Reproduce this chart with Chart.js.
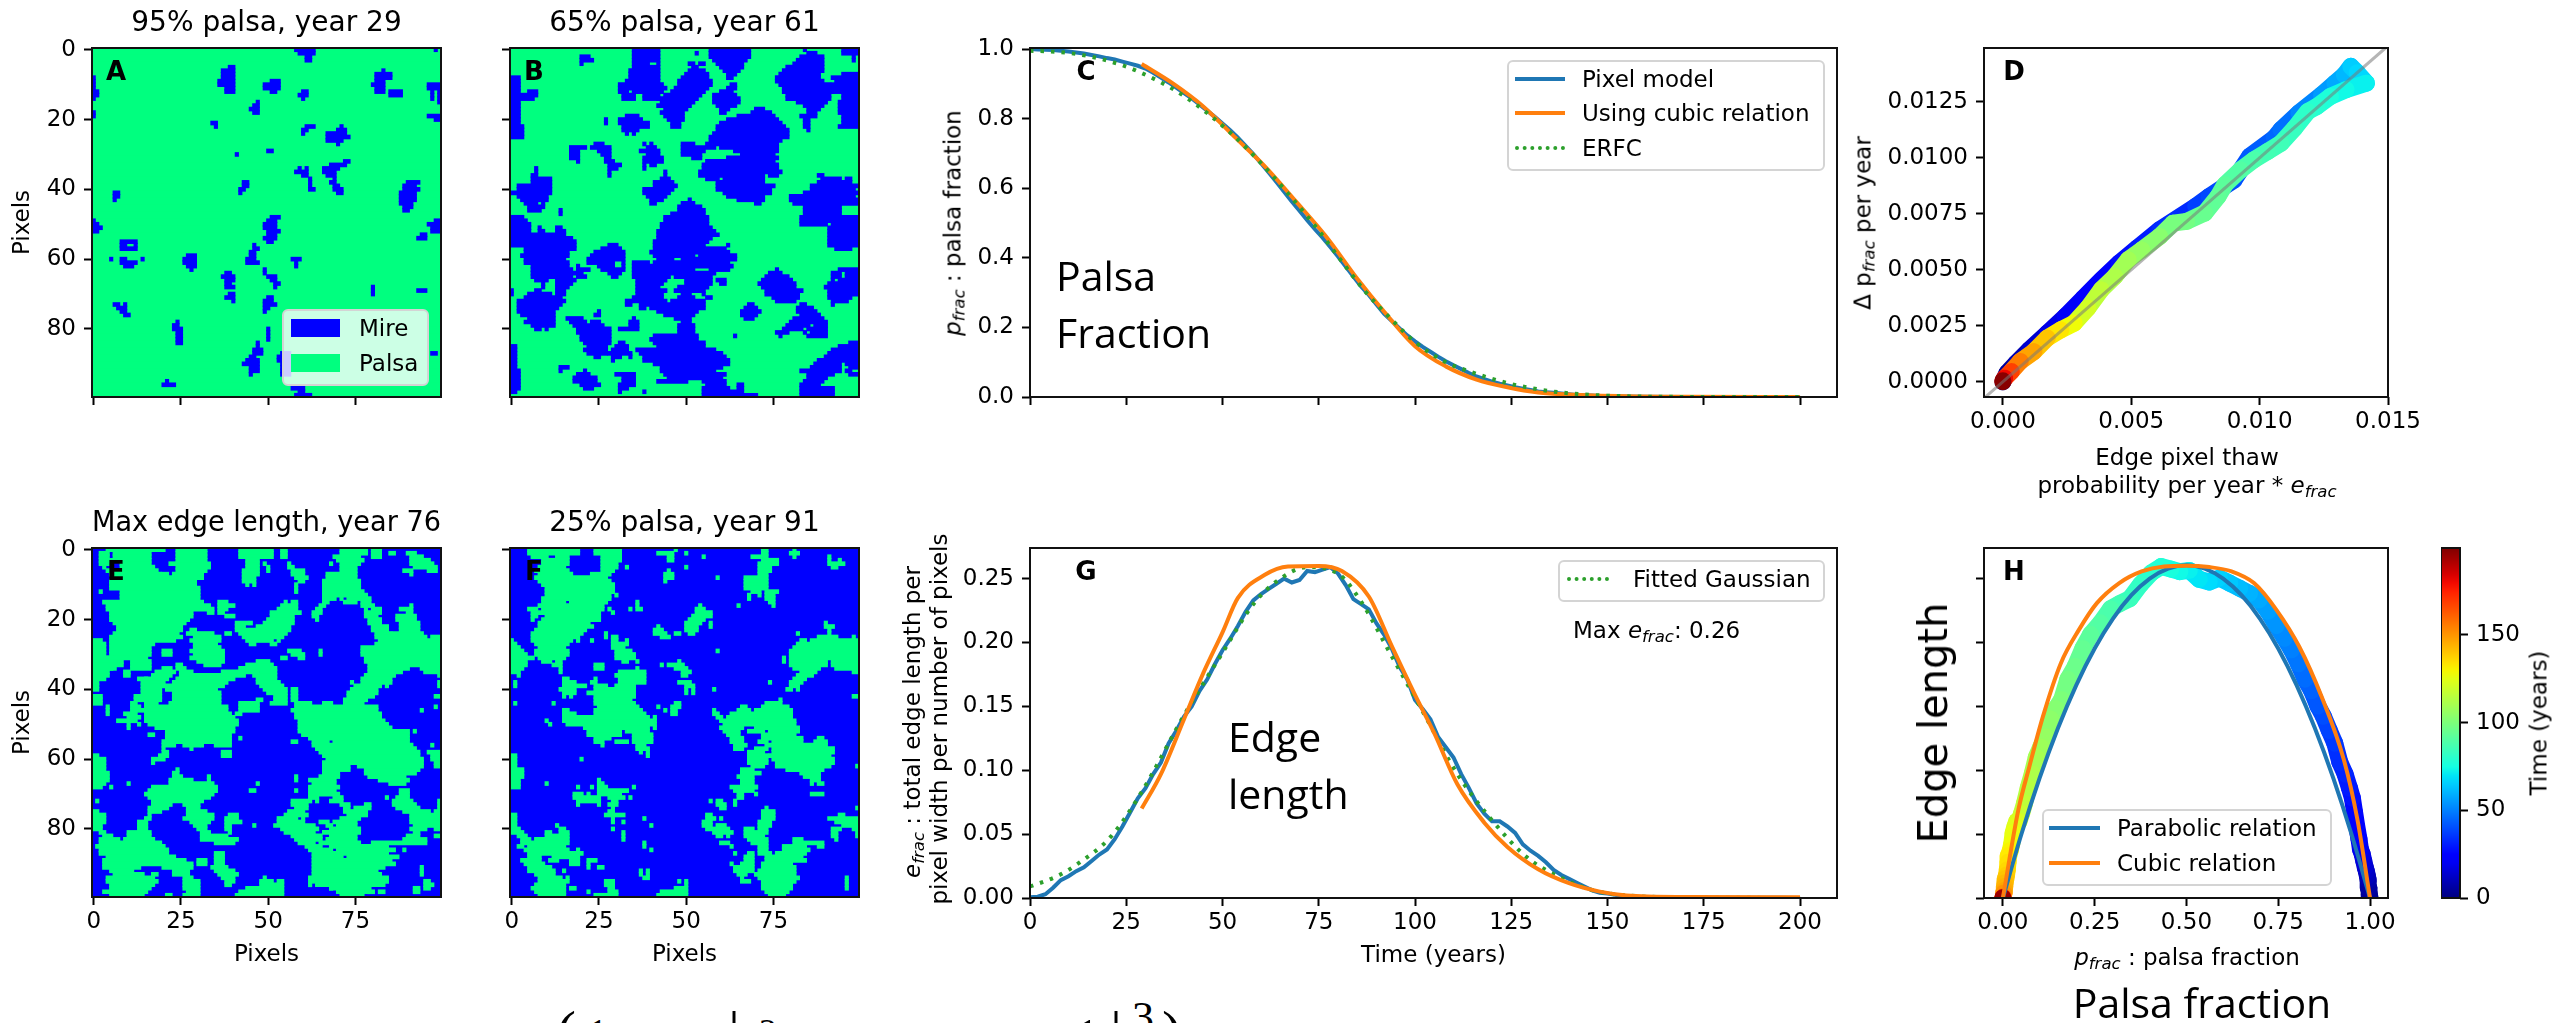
<!DOCTYPE html>
<html>
<head>
<meta charset="utf-8">
<title>Palsa model</title>
<script src="https://cdn.jsdelivr.net/npm/chart.js@4"></script>
<style>
html,body{margin:0;padding:0;background:#fff;width:2554px;height:1023px;overflow:hidden;position:relative;font-family:"DejaVu Sans",sans-serif;color:#000}
body{filter:blur(.5px)}
canvas{position:absolute}
.t{position:absolute;white-space:nowrap;line-height:1}
.t sub{font-size:72%;line-height:0;vertical-align:-0.25em}
.lg{position:absolute;box-sizing:border-box;background:rgba(255,255,255,.8);border:2px solid #d4d4d4;border-radius:6px}
.sw{position:absolute}
</style>
</head>
<body>
<script>
const years = [0,2,4,6,8,10,12,14,16,18,20,22,24,26,28,30,32,34,36,38,40,42,44,46,48,50,52,54,56,58,60,62,64,66,68,70,72,74,76,78,80,82,84,86,88,90,92,94,96,98,100,102,104,106,108,110,112,114,116,118,120,122,124,126,128,130,132,134,136,138,140,142,144,146,148,150,155,160,170,180,195,200];
const pixelFrac = [1,.999,.998,.997,.995,.993,.99,.987,.983,.979,.974,.97,.964,.958,.952,.944,.932,.918,.904,.889,.873,.858,.841,.823,.805,.786,.767,.745,.722,.698,.672,.645,.618,.59,.562,.535,.508,.482,.458,.431,.404,.375,.346,.318,.293,.266,.239,.218,.197,.177,.16,.144,.13,.116,.103,.091,.08,.069,.059,.051,.044,.038,.033,.028,.024,.02,.016,.014,.012,.01,.008,.006,.005,.004,.003,.0025,.0015,.001,.0003,.0001,.00005,0];
const edgeFrac = [.0005,.001,.003,.008,.014,.017,.021,.024,.029,.034,.038,.046,.056,.067,.078,.086,.097,.106,.121,.131,.142,.15,.162,.171,.183,.194,.203,.213,.224,.233,.238,.242,.246,.25,.247,.249,.256,.255,.257,.259,.254,.245,.234,.23,.226,.215,.206,.195,.181,.171,.155,.148,.14,.126,.118,.11,.097,.086,.074,.066,.06,.06,.056,.051,.042,.037,.033,.028,.022,.018,.015,.012,.009,.006,.004,.0035,.001,.0003,.0002,.0002,.0002,0];

const cubicYears = [29,37,45,53,61,69,77,85,92,100,108,116,124,132,140,155,170,200];
const cubicFrac = [.957,.902,.835,.749,.663,.563,.46,.34,.245,.146,.088,.05,.028,.013,.007,.002,.0005,0];
const erfcYears = [0,7,13,20,28,40,52,60,67,75,80,87,94,100,108,113,124,135,143,155,170,200];
const erfcFrac = [.995,.992,.984,.967,.936,.865,.76,.672,.585,.478,.404,.304,.222,.158,.1,.078,.04,.017,.008,.002,.0003,0];

const cubicEdgeYears = [29,34,40,45,50,54,61,67,75,81,88,94,100,105,111,118,124,132,140,148,155,171,200];
const cubicEdge = [.07,.097,.14,.176,.208,.235,.253,.2595,.26,.256,.236,.197,.159,.129,.089,.059,.04,.0225,.0116,.005,.002,.0008,.0005];
const gaussYears = [0,7,13,21,29,40,50,58,65,72,80,86,94,102,111,119,129,138,146,155,171,200];
const gaussEdge = [.009,.017,.028,.048,.083,.143,.192,.23,.25,.259,.254,.232,.189,.146,.097,.0645,.032,.0157,.0062,.002,.0005,0];

// panel D, in time order
const thawTime = [0,5,9,14,18,21,23,25,27,30,33,37,39,41,43,45,47,51,55,58,61,65,67,72,74,77,79,81,83,85,86,88,90,92,93,95,98,99,103,106,109,112,116,121,128,133,140,147,155,168,180,198,199];
const thawX = [0,.00016,.00051,.00103,.00173,.00243,.00313,.00383,.00453,.00523,.00611,.00751,.00803,.009,.00961,.01057,.01083,.01153,.01241,.01293,.0133,.01355,.0138,.01416,.01337,.01276,.01223,.01188,.01136,.01083,.01031,.00978,.00926,.00865,.00838,.00786,.00716,.00663,.00611,.00541,.00488,.00436,.00383,.00331,.00278,.00226,.00173,.00121,.00068,.00033,.00007,0,0];
const thawY = [0,.00039,.00083,.00143,.00217,.00292,.00373,.00455,.0053,.00597,.00679,.00783,.00827,.009,.01006,.01088,.01125,.012,.01281,.01333,.0137,.01408,.0138,.01333,.01304,.01274,.01229,.01207,.01132,.01065,.01028,.00991,.00946,.0088,.00827,.00753,.00716,.00708,.00649,.00589,.00545,.0047,.00411,.00329,.00262,.00232,.00195,.00135,.00091,.00046,.00016,.00004,0];
const unitLine = [-.00075,.0149];

// panel H relations
const relationP = [0,.05,.1,.15,.2,.25,.3,.35,.4,.45,.5,.55,.6,.65,.7,.75,.8,.85,.9,.95,1];
const parabolic = [0,.0494,.0936,.1326,.1664,.195,.2184,.2366,.2496,.2574,.26,.2574,.2496,.2366,.2184,.195,.1664,.1326,.0936,.0494,0];
const cubicP = [0,.042,.072,.109,.158,.207,.256,.317,.378,.439,.5,.562,.623,.684,.745,.807,.868,.929,.966,1];
const cubicE = [0,.0686,.1026,.1417,.1835,.2095,.2304,.2461,.2552,.2591,.2597,.2586,.2552,.2461,.2252,.1965,.1574,.1078,.0608,0];

// tick positions
const pixelTicks = [0,25,50,75];
const rowTicks = [0,20,40,60,80];
const timeTicks = [0,25,50,75,100,125,150,175,200];
const fracTicks = [0,.2,.4,.6,.8,1];
const edgeTicks = [0,.05,.1,.15,.2,.25];
const thawXTicks = [0,.005,.01,.015];
const thawYTicks = [0,.0025,.005,.0075,.01,.0125];
const relationTicks = [0,.25,.5,.75,1];
const colorTicks = [0,50,100,150];

// maps: [firstRow, lastRow, fromCol, toCol, fromCol, toCol, ...]
const mireA = [[0,0,58,63,98,98],[1,1,59,63],[2,3,61,62],[5,5,39,40],[6,8,37,40],[9,10,36,40],[11,12,38,40],[9,9,51,53],[10,11,49,53],[12,12,51,52],
[15,15,47,47],[16,17,46,47],[17,17,45,45],[18,18,46,47],[12,12,60,61],[13,13,59,61],[14,14,60,60],[6,6,83,83],[7,8,81,85],[9,9,81,83],[10,10,80,83],[11,12,81,83],[12,13,85,88],
[10,11,96,99],[12,14,97,97],[12,15,99,99],[8,11,0,0],[12,13,0,1],[14,14,0,0],[18,19,0,0],[19,19,96,99],[20,20,98,99],[21,21,34,35],[22,22,35,35],
[22,22,61,63,71,71],[23,23,60,61,70,72],[24,24,60,60,67,72],[25,25,67,73],[26,26,67,71],[27,27,70,70],[30,30,41,41],[29,29,50,51],
[32,32,72,73],[33,33,68,72],[34,34,66,70,59,59,61,61],[35,35,66,69,58,61],[36,36,67,69,60,61],[37,37,69,69,62,62],[38,38,68,69,62,62,43,44],[39,39,69,70,62,62,43,44],[40,40,69,71,62,63,42,43],[41,41,70,71,42,42],
[41,42,6,7],[43,43,6,6],[38,38,90,93],[39,39,89,92],[40,40,89,93],[41,43,88,92],[44,44,88,91],[45,45,89,91],[46,46,89,90],
[48,48,51,53],[49,49,50,52,0,0,98,99],[50,50,49,52,0,1,96,99],[51,51,49,52,0,2,97,99],[52,52,50,53,0,1,97,99],[53,53,50,52,94,95],[54,54,49,52,93,95],[55,55,50,51,8,12],
[56,56,8,9,12,12,46,46],[57,57,8,12,46,47],[58,59,45,46],[59,59,27,29],[60,61,26,29],[60,60,44,46,57,59,5,5,14,14,8,9],[61,61,44,47,58,58,8,12],[62,62,27,29,58,58,9,11],[63,63,28,28,49,49],
[64,64,38,39,49,49],[65,65,37,40,50,52],[66,66,38,40,51,52],[67,67,38,39,52,53],[68,68,38,40,52,52,80,80],[69,69,80,80,93,95],[70,70,80,80,39,40],[71,71,38,40,50,51],[72,72,40,40,49,51],[73,73,49,52,6,7,9,9],[74,74,49,50,7,9],[75,75,49,49,8,9],[76,76,9,10],
[78,78,24,24],[79,79,23,24],[80,80,23,25,50,50],[81,83,24,25,50,50],[84,84,24,25,47,47],[85,85,47,47],[86,87,46,48],[87,87,97,98,54,56],[88,88,45,46,53,56],[89,89,44,47,53,56],[90,90,43,47,54,56],[91,92,45,47,54,56],[93,93,45,45,54,56],
[95,95,21,21],[96,96,20,23],[97,97,57,60],[98,98,59,60],[99,99,58,62]];

const mireB = [[0,0,35,42,57,68,84,84,95,99],[1,1,35,42,53,53,57,68,85,87,95,99],[2,2,20,22,35,42,57,68,83,89,98,98],[3,3,20,23,35,42,58,67,82,89,98,98],[4,4,20,20,35,39,42,42,51,52,54,55,59,66,81,89],[5,5,35,42,52,53,60,66,79,89],[6,6,34,42,51,55,61,65,78,89],
[7,7,34,42,50,56,62,64,77,88,95,99],[8,8,0,2,34,42,49,56,62,63,76,88,92,99],[9,9,0,2,33,42,48,57,76,89,93,99],[10,10,0,2,31,43,48,57,63,64,77,91,92,99],[11,11,0,2,31,43,44,44,47,56,62,64,78,99],[12,12,0,2,5,7,31,33,35,43,46,55,60,63,78,92,93,99],
[13,13,0,7,32,35,38,42,44,54,58,64,79,91,95,99],[14,14,0,6,32,35,38,42,42,53,58,65,79,87,88,91,95,99],[15,15,0,2,43,52,58,65,82,90,94,99],[16,16,0,2,42,51,59,64,84,89,94,99],[17,17,0,2,44,50,60,62,70,72,85,88,94,99],[18,18,0,2,43,49,60,61,69,74,85,87,94,99],
[19,19,0,2,33,36,44,49,65,75,83,87,95,99],[20,20,0,2,27,27,31,37,45,49,62,76,84,85,95,99],[21,21,0,2,27,27,31,39,46,48,60,77,84,85,95,99],[22,22,0,3,32,39,46,48,59,78,84,85,94,99],[23,23,0,3,32,36,59,79,85,85],[24,24,0,3,33,33,35,35,58,79],[25,25,0,3,57,79],[26,26,57,77],
[27,27,24,26,38,38,40,40,49,52,56,57,58,76],[28,28,17,21,23,28,39,41,49,58,60,76],[29,29,17,19,25,28,37,42,49,55,64,76],[30,30,17,19,26,28,39,42,49,54,66,75],[31,31,17,19,27,28,38,43,52,54,62,76],[32,32,19,19,27,29,38,43,56,75],[33,33,28,31,38,38,40,41,55,76],[34,34,7,7,28,30,38,38,55,76],
[35,35,7,7,28,28,44,44,54,77],[36,36,6,7,28,28,44,44,54,72,74,76,88,89],[37,37,6,11,43,45,56,59,61,72,89,94,96,97],[38,38,6,11,41,46,59,72,88,97],[39,39,2,11,41,47,59,75,86,99],[40,40,2,11,38,46,59,74,86,98],[41,41,0,11,38,45,61,74,84,99],[42,42,2,10,39,44,62,72,80,98],[43,43,3,10,40,43,51,51,65,72,80,99],[44,44,4,7,9,9,40,41,49,52,70,71,81,99],
[45,45,5,9,48,54,84,94],[46,46,5,8,14,14,48,55,84,94],[47,47,14,14,46,55,84,94],[48,48,0,3,44,56,83,99],[49,49,0,4,44,56,83,99],[50,50,0,5,43,56,83,90,92,99],[51,51,0,5,8,8,13,14,43,57,91,99],[52,52,0,5,8,9,13,15,42,58,91,99],[53,53,0,15,42,59,91,99],[54,54,0,17,42,57,91,99],[55,55,0,18,41,56,91,99],
[56,56,0,18,28,30,41,55,62,62,91,99],[57,57,4,18,26,31,41,55,56,61,93,97],[58,58,4,16,24,32,40,55,55,62],[59,59,3,16,23,32,41,52,54,64],[60,60,4,15,22,32,42,46,49,64],[61,61,4,16,22,29,32,32,35,39,41,62],[62,62,6,16,19,19,25,29,32,32,35,63],[63,63,6,17,19,22,26,32,35,52,57,62,76,76,94,99],
[64,64,6,20,28,31,35,58,74,77,92,94,96,99],[65,65,6,17,19,21,29,30,35,45,47,57,73,79,92,94,96,99],[66,66,7,10,13,18,36,44,50,57,59,61,72,80,92,92,94,99],[67,67,9,9,13,17,36,43,50,57,60,61,71,81,91,99],[68,68,9,9,13,16,36,42,48,56,72,81,90,99],[69,69,0,0,7,8,13,15,36,44,47,55,73,83,91,99],[70,70,0,0,5,11,13,15,36,43,49,51,55,55,73,82,91,99],[71,71,4,14,35,43,48,52,56,57,75,82,91,97],[72,72,2,15,33,34,35,44,46,55,76,81,92,96],
[73,73,2,14,33,34,37,55,68,69,83,84,92,92],[74,74,2,13,37,38,40,55,67,70,82,86],[75,75,2,12,25,25,42,53,66,71,82,87],[76,76,3,12,24,25,44,52,66,70,83,88],[77,77,5,12,16,20,35,35,47,51,67,69,81,89],[78,78,4,12,17,21,23,25,34,36,49,51,80,90],[79,79,6,12,18,26,34,36,48,52,79,85,87,90],[80,80,7,8,10,10,19,28,31,36,48,52,78,83,85,90],[81,81,19,28,48,52,76,79,84,84,86,90],[82,82,20,28,41,53,64,64,77,77,85,90],[83,83,20,28,40,53],
[84,84,21,28,31,32,41,55,97,99],[85,85,0,1,22,27,30,33,42,55,94,99],[86,86,0,1,21,27,29,33,36,58,92,99],[87,87,0,1,22,27,28,34,37,60,91,99],[88,88,0,1,24,25,29,31,34,34,38,61,90,99],[89,89,0,1,29,29,38,62,88,99],[90,90,0,1,41,62,87,94,96,99],[91,91,0,1,14,16,43,60,86,94,97,99],[92,92,0,2,14,14,21,21,43,58,83,94,96,97],
[93,93,0,2,19,22,30,35,44,61,85,92,97,99],[94,94,0,2,18,24,32,35,45,60,85,90],[95,95,0,2,18,24,32,35,42,50,55,61,84,89],[96,96,0,2,20,25,31,35,56,61,65,66,83,88],[97,97,0,2,21,23,31,33,55,62,65,66,83,92],[98,98,0,1,31,31,38,38,55,66,83,92],[99,99,55,70,83,92]];

const palsaE = [[0,0,4,20,24,32,42,51,54,55,71,78,80,82],[1,1,2,4,6,16,24,32,42,51,54,55,71,78,80,82,85,86,90,92],[2,2,2,4,6,16,24,32,42,51,54,55,69,76,80,82,91,94],[3,3,2,4,5,16,24,32,44,47,70,77,91,96],[4,4,2,4,8,16,22,23,24,33,44,47,49,49,56,56,68,68,71,76,91,97],[5,5,3,3,8,17,24,33,44,47,50,50,56,57,71,75,92,98],
[6,6,4,18,24,32,43,47,50,50,57,60,71,75,89,91,96,98],[7,7,5,19,20,21,23,31,43,47,57,60,67,75,91,91],[8,8,6,31,43,46,58,61,67,75],[9,9,5,29,43,46,59,60,66,76],[10,10,5,29,44,44,46,46,58,58,66,76],[11,11,5,30,58,58,66,76],[12,12,2,2,8,30,58,58,66,77],[13,13,8,30,66,78],[14,14,8,30,66,69,71,71,73,79],
[15,15,3,31,36,38,55,55,57,58,66,67,72,75,77,79],[16,16,4,33,36,40,54,58,65,66,77,80,91,91],[17,17,4,32,33,34,36,38,53,58,64,65,78,78,80,82,88,91],[18,18,5,28,33,34,36,37,51,59,63,65,78,82,90,91],[19,19,5,28,38,40,51,57,63,64,78,81,87,92],[20,20,5,27,50,57,64,64,79,82,87,92],[21,21,6,26,41,44,45,45,49,57,79,82,88,93],[22,22,7,25,41,43,47,56,80,84,88,93],[23,23,7,25,28,29,41,56,80,84,88,93],[24,24,6,24,27,34,38,39,42,55,81,85,86,94],
[25,25,5,25,29,36,43,54,81,87,85,95,97,99],[26,26,0,2,5,23,28,36,44,51,53,53,82,99],[27,27,0,3,5,17,29,35,45,46,51,52,81,99],[28,28,0,3,5,16,29,36,77,99],[29,29,0,3,5,16,20,22,28,37,56,59,65,65,77,99],[30,30,0,3,5,16,20,22,29,37,57,60,65,65,77,99],[31,31,0,5,4,15,28,37,54,55,59,60,78,99],[32,32,0,5,4,8,11,16,30,37,47,50,78,99],[33,33,0,5,3,8,11,16,24,25,32,36,44,51,79,99],
[34,34,0,5,3,6,11,16,20,22,24,26,42,52,79,90,94,99],[35,35,0,4,9,10,18,23,25,28,37,47,48,52,79,88,95,99],[36,36,0,4,9,10,17,22,25,36,37,43,46,52,78,86,80,80,99,99],[37,37,0,3,13,15,15,21,24,40,47,52,77,85],[38,38,0,1,14,20,23,38,47,53,74,74,77,85,99,99],[39,39,0,1,14,29,30,37,48,54,75,76,77,82,84,84,99,99],[40,40,0,1,14,19,21,35,49,55,57,58,74,81],[41,41,14,19,23,36,50,55,57,58,73,81],
[42,42,0,2,12,13,14,19,23,36,52,55,57,58,73,80,98,99],[43,43,0,2,12,13,14,19,23,36,47,48,52,55,57,58,72,78],[44,44,0,2,11,12,15,18,22,36,42,47,51,55,58,62,66,68,72,77],[45,45,4,4,11,13,15,38,42,47,58,81,98,98],[46,46,4,4,11,14,15,38,42,47,57,81,94,94],[47,47,4,4,9,12,15,39,41,42,58,82],[48,48,10,13,15,40,58,82],[49,49,7,12,15,41,59,83],[50,50,10,10,13,13,16,41,59,84],[51,51,10,10,18,40,59,85],[52,52,21,40,59,90,92,92],[53,53,16,17,21,39,60,90],[54,54,21,39,42,42,62,90],
[55,55,20,39,57,58,63,67,69,90],[56,56,20,23,26,30,31,31,35,39,63,91,97,97],[57,57,20,20,28,28,64,92],[58,58,20,21,37,39,65,93,96,99],[59,59,0,1,19,21,37,39,66,93,97,99],[60,60,0,3,17,20,67,94,97,99],[61,61,0,3,17,17,66,94,98,99],[62,62,0,3,66,73,76,94,98,99],[63,63,0,3,24,24,66,73,78,93],[64,64,0,4,23,24,66,70,78,92],[65,65,0,4,23,25,33,33,58,58,65,70,79,89],[66,66,0,4,22,28,33,33,58,58,62,69,82,90],
[67,67,0,3,10,10,22,34,47,47,63,69,85,89],[68,68,0,2,5,5,17,35,62,70],[69,69,16,35,45,46,58,58,62,69,88,90],[70,70,15,34,62,70,88,90],[71,71,16,33,62,64,69,71,84,84,87,90],[72,72,1,1,17,31,57,62,64,64,68,71,86,91,99,99],[73,73,17,22,26,30,57,61,71,73,78,79,86,92,99,99],[74,74,16,21,27,30,58,61,72,73,75,79,87,93,99,99],[75,75,0,1,16,19,27,32,56,60,72,78,89,96,98,99],[76,76,0,3,16,16,27,34,39,41,55,61,73,78,91,99],
[77,77,0,3,15,16,26,34,38,41,53,58,60,60,71,76,91,99],[78,78,0,3,13,15,28,33,38,42,53,60,65,67,69,75,91,99],[79,79,0,2,13,15,29,32,38,39,46,46,52,63,67,68,70,75,92,99],[80,80,0,2,13,15,30,32,38,39,54,64,68,76,91,95,98,99],[81,81,2,3,10,16,31,33,39,39,55,63,66,76,92,93],[82,82,3,5,10,16,31,38,57,65,68,75,90,93,98,99],[83,83,2,7,9,17,31,41,58,65,67,75,89,95],[84,84,2,19,35,40,59,63,65,76,80,95],
[85,85,1,20,61,65,68,84],[86,86,2,21,62,68,70,86,89,89],[87,87,2,21,35,37,63,84],[88,88,4,23,35,37,63,71,73,87],[89,89,3,26,30,32,35,37,63,85],[90,90,3,28,30,32,35,37,63,86],[91,91,3,13,20,28,34,38,63,83,94,94],[92,92,5,11,23,27,35,40,63,81,94,94],[93,93,6,14,17,18,23,27,36,41,63,82,94,94],[94,94,4,17,26,28,37,40,49,49,62,84],[95,95,4,18,26,30,38,40,48,51,53,54,62,65,66,84,95,96],[96,96,5,17,26,30,38,39,48,54,62,62,64,83,95,97],[97,97,5,16,26,30,44,54,68,68,68,79,92,93,95,96],[98,98,3,15,27,30,42,54,70,78,79,80,82,83,92,93],[99,99,5,14,21,22,26,30,41,54,71,77]];

const palsaF = [[0,0,5,19,24,31,47,47,72,73,81,81],[1,1,5,19,24,31,42,46,50,50,72,73,80,82],[2,2,6,10,13,16,26,31,45,46,55,55,69,73,81,81,91,91],[3,3,9,16,26,31,45,46,72,76,91,91,94,94],[4,4,9,16,26,30,71,76,91,95],[5,5,8,15,26,30,33,33,50,50,71,74,92,93],[6,6,7,16,26,29,45,45,71,74],[7,7,8,17,23,28,44,46,71,73],[8,8,7,27,44,46,59,59,67,73],[9,9,8,11,12,28,44,44,67,73],[10,10,9,29,67,73],[11,11,10,29,67,73],[12,12,10,29,69,71,73,76],[13,13,10,28,30,30,68,68,71,71,73,75],[14,14,9,28,68,68,73,75],
[15,15,9,15,17,27,36,36,74,75],[16,16,8,26,36,36,54,54,65,65,75,75],[17,17,5,7,9,26,28,28,34,34,36,37,53,55],[18,18,6,25,29,29,53,57],[19,19,6,7,10,25,52,57],[20,20,6,6,9,25,51,55],[21,21,8,22,50,54,57,57,90,90],[22,22,8,23,42,42,50,53,57,57,90,92],[23,23,7,21,41,43,50,53,91,91],[24,24,6,20,27,27,41,44,47,48,51,52,82,82,91,91],[25,25,6,19,27,27,29,30,43,45,88,93,98,98],
[26,26,0,0,6,17,19,19,23,23,29,30,33,33,83,84,86,99],[27,27,0,1,7,16,29,33,82,84,85,99],[28,28,0,2,8,15,29,32,81,99],[29,29,0,3,7,16,30,34,59,59,80,99],[30,30,0,4,7,16,30,35,80,99],[31,31,0,6,8,15,30,35,78,78,80,99],[32,32,0,4,9,11,13,14,32,33,36,36,48,48,78,78,80,90,92,99],[33,33,0,4,12,14,24,26,43,43,45,49,80,90,92,99],[34,34,0,3,14,14,24,26,36,36,47,50,81,88,93,99],[35,35,0,2,14,14,31,38,49,51,83,87,98,99],[36,36,2,2,30,38,49,50,82,86],
[37,37,15,16,24,24,31,38,81,84],[38,38,1,1,15,18,23,24,31,38,48,51,74,74,80,83],[39,39,1,1,15,21,24,27,30,35,50,52,80,82],[40,40,14,18,24,35,50,50,52,52,58,58,79,80,82,82],[41,41,15,18,22,35,50,50,52,52],[42,42,15,15,17,17,24,35,98,99],[43,43,24,34,77,77],[44,44,1,1,12,12,24,35,47,48,73,77],[45,45,25,36,42,42,46,48,66,67,72,79],[46,46,15,16,24,37,44,44,46,47,58,58,65,68,70,80],[47,47,15,18,24,38,46,47,58,59,63,80],[48,48,15,39,41,41,59,60,62,80],[49,49,10,10,15,41,60,81],[50,50,11,11,16,41,61,81],[51,51,21,39,41,41,60,66,70,82],[52,52,22,31,33,39,61,65,68,72,74,82],
[53,53,22,31,35,40,62,65,72,81],[54,54,24,28,35,40,63,66,72,82,83,83,88,89],[55,55,24,26,30,33,35,40,63,66,71,73,75,83,87,90],[56,56,26,26,36,38,64,67,73,90],[57,57,36,39,64,66,70,73,75,92],[58,58,37,37,39,39,68,72,75,92],[59,59,0,1,39,39,68,73,74,91],[60,60,0,1,20,20,68,73,75,92],[61,61,0,1,68,73,76,92],[62,62,0,1,69,72,76,91,99,99],[63,63,0,3,66,69,79,89],[64,64,0,3,66,71,83,88],[65,65,0,3,65,69,84,88],[66,66,0,2,25,25,66,69,86,88],[67,67,0,2,10,10,25,26,66,69,86,86,88,89],
[68,68,0,2,19,19,23,23,25,27,35,35,63,70,70,70],[69,69,25,33,64,69],[70,70,18,20,22,22,25,31,65,66,70,70,86,89],[71,71,18,25,28,32,34,34,65,66],[72,72,19,25,29,30,57,57,59,60,64,64],[73,73,19,19,25,25,28,30,59,61,64,64],[74,74,29,29,60,61,73,73,99,99],[75,75,28,29,72,75],[76,76,0,1,27,32,56,57,72,75,94,95],[77,77,0,1,29,29,38,38,56,58,60,60,72,75,91,99],[78,78,0,1,29,29,32,32,55,57,71,74,93,99],[79,79,0,1,13,13,40,40,55,57,59,61,71,74,95,99],[80,80,0,2,14,15,29,29,56,62,67,69,71,73,92,94,98,99],
[81,81,0,3,10,11,14,16,32,32,58,63,67,73,92,93,99,99],[82,82,2,4,10,16,32,32,59,60,62,62,67,72,92,93,99,99],[83,83,3,5,7,16,32,32,68,73,81,83,93,93],[84,84,3,16,38,38,60,62,69,73,81,83,84,89],[85,85,2,3,5,15,38,38,63,63,71,73,78,84,88,89],[86,86,4,16,19,19,40,40,71,73,78,85],[87,87,5,20,64,64,68,69,71,74,76,84],[88,88,5,8,12,16,17,19,67,69,73,83],[89,89,3,8,11,13,17,19,22,24,67,69,73,84],[90,90,4,9,17,19,22,22,63,63,66,69,72,80],[91,91,5,11,22,22,25,26,64,69,72,81],
[92,92,5,12,15,15,37,37,39,39,64,69,71,81],[93,93,7,12,37,37,39,39,65,67,70,81],[94,94,8,14,16,16,38,39,66,66,71,82,96,96],[95,95,8,14,15,16,27,29,48,48,50,50,66,68,72,81,96,96],[96,96,7,15,27,29,50,50,72,80,96,96],[97,97,6,15,17,18,28,29,47,50,72,80,96,96],[98,98,7,15,22,22,28,30,43,50,73,79],[99,99,8,15,24,30,42,50,74,78]];

const mapRows = Array.from({length: 100}, (_, i) => i);
const MIRE = '#0000ff', PALSA = '#00ff7f', BLUE = '#1f77b4', ORANGE = '#ff7f0e', GREEN = '#2ca02c';
const DEJAVU = '"DejaVu Sans"', HAND = '"Open Sans"';

Chart.defaults.font.family = DEJAVU;
Chart.defaults.font.size = 23;
Chart.defaults.color = '#000';
Chart.defaults.animation = false;

// box round every plot
Chart.register({id: 'frame', afterDraw(chart){
	const a = chart.chartArea, ctx = chart.ctx;
	ctx.save();
	ctx.strokeStyle = '#111';
	ctx.lineWidth = 2;
	ctx.strokeRect(a.left, a.top, a.right - a.left, a.bottom - a.top);
	ctx.restore();
}});

function jet(v){
	const lerp = (xs, ys) => {
		for(let i = 1; i < xs.length; i++){
			if(v <= xs[i]) return ys[i-1] + (ys[i] - ys[i-1]) * (v - xs[i-1]) / (xs[i] - xs[i-1]);
		}
		return ys[ys.length-1];
	};
	const r = lerp([0,.35,.66,.89,1], [0,0,1,1,.5]);
	const g = lerp([0,.125,.375,.64,.91,1], [0,0,1,1,0,0]);
	const b = lerp([0,.11,.34,.65,1], [.5,1,1,0,0]);
	return 'rgb(' + Math.round(r*255) + ',' + Math.round(g*255) + ',' + Math.round(b*255) + ')';
}
const timeColor = (t) => jet(t / 199.5);

function linAxis(min, max, vals, cb, padding, title){
	return {
		type: 'linear', min: min, max: max, bounds: 'data',
		afterBuildTicks: (s) => { s.ticks = vals.map((v) => ({value: v})); },
		ticks: {autoSkip: false, maxRotation: 0, padding: padding, callback: cb},
		grid: {drawOnChartArea: false, tickLength: 8, tickWidth: 2, tickColor: '#000'},
		border: {display: false},
		title: title || {display: false},
	};
}
const noLabel = () => '';
const fixed = (n) => (v) => Number(v).toFixed(n);

// chart with its plot area at a given place on the page
function panel(plot, mL, mB, mR, cfg, titleText){
	const c = document.createElement('canvas');
	const w = mL + plot.r - plot.l + mR, h = 48 + plot.b - plot.t + mB;
	const axisRight = cfg.options.scales.y.position === 'right';
	c.width = w;
	c.height = h;
	c.style.left = (plot.l - mL) + 'px';
	c.style.top = (plot.t - 48) + 'px';
	document.body.appendChild(c);
	cfg.options.responsive = false;
	cfg.options.layout = {padding: {top: titleText ? 0 : 48, right: axisRight ? 0 : mR, left: 0, bottom: 0}};
	cfg.options.plugins = {
		legend: {display: false},
		tooltip: {enabled: false},
		title: titleText ? {display: true, fullSize: false, text: titleText, color: '#000', font: {size: 28, lineHeight: '34px', weight: 'normal'}, padding: {top: 7, bottom: 7}} : {display: false},
	};
	cfg.options.scales.x.afterFit = (s) => { s.height = mB; };
	cfg.options.scales.y.afterFit = (s) => { s.width = axisRight ? mR : mL; };
	return new Chart(c, cfg);
}

// split the patches of one map into floating bars per row
function mapDatasets(patches, patchColor, baseColor){
	const rows = mapRows.map(() => []);
	patches.forEach((p) => {
		for(let r = p[0]; r <= p[1]; r++){
			for(let k = 2; k < p.length; k += 2) rows[r].push([p[k] - .5, p[k+1] + .5]);
		}
	});
	const layers = Math.max.apply(null, rows.map((x) => x.length));
	const sets = [];
	for(let k = 0; k < layers; k++){
		sets.push({data: rows.map((x) => x[k] || null), backgroundColor: patchColor, grouped: false, borderWidth: 0, barThickness: 4, order: 0});
	}
	sets.push({data: mapRows.map(() => [-.5, 99.5]), backgroundColor: baseColor, grouped: false, borderWidth: 0, barThickness: 4, order: 1});
	return sets;
}

function mapPanel(l, t, patches, patchColor, baseColor, titleText, leftLabels, bottomLabels){
	const y = {
		type: 'category', offset: true,
		afterBuildTicks: (s) => { s.ticks = s.ticks.filter((x) => rowTicks.includes(x.value)); },
		ticks: {autoSkip: false, maxRotation: 0, padding: 8, callback: (v) => leftLabels ? v : ''},
		grid: {offset: false, drawOnChartArea: false, tickLength: 8, tickWidth: 2, tickColor: '#000'},
		border: {display: false},
		title: leftLabels ? {display: true, text: 'Pixels', padding: {top: 9, bottom: 0}} : {display: false},
	};
	const x = linAxis(-.5, 99.5, pixelTicks, bottomLabels ? (v) => v : noLabel, 3, bottomLabels ? {display: true, text: 'Pixels', padding: {top: 0, bottom: 8}} : null);
	panel({l: l, t: t, r: l + 349, b: t + 349}, 92, 80, 40, {
		type: 'bar',
		data: {labels: mapRows, datasets: mapDatasets(patches, patchColor, baseColor)},
		options: {indexAxis: 'y', scales: {x: x, y: y}},
	}, titleText);
}

const xy = (xs, ys) => xs.map((v, i) => ({x: v, y: ys[i]}));
const lineSet = (data, color, order, extra) => Object.assign({data: data, showLine: true, borderColor: color, borderWidth: 4, pointRadius: 0, order: order}, extra);
const smooth = {cubicInterpolationMode: 'monotone'};
const dotted = {cubicInterpolationMode: 'monotone', borderDash: [3.5, 7]};

// thick line coloured by year
const timeSet = (data, times, order) => ({
	data: data, showLine: true, pointRadius: 0, tension: 0, borderWidth: 17, order: order,
	borderCapStyle: 'round', borderJoinStyle: 'round', borderColor: timeColor(0),
	segment: {borderColor: (ctx) => timeColor(times[ctx.p0DataIndex])},
});

mapPanel(92, 48, mireA, MIRE, PALSA, '95% palsa, year 29', true, false);
mapPanel(510, 48, mireB, MIRE, PALSA, '65% palsa, year 61', false, false);
mapPanel(92, 548, palsaE, PALSA, MIRE, 'Max edge length, year 76', true, true);
mapPanel(510, 548, palsaF, PALSA, MIRE, '25% palsa, year 91', false, true);

// C
panel({l: 1030, t: 48, r: 1837, b: 397}, 130, 80, 30, {
	type: 'scatter',
	data: {datasets: [
		lineSet(xy(erfcYears, erfcFrac), GREEN, 0, dotted),
		lineSet(xy(cubicYears, cubicFrac), ORANGE, 1, smooth),
		lineSet(xy(years, pixelFrac), BLUE, 2),
	]},
	options: {scales: {x: linAxis(0, 209.6, timeTicks, noLabel, 3), y: linAxis(0, 1.003, fracTicks, fixed(1), 8)}},
});

// G
panel({l: 1030, t: 548, r: 1837, b: 898}, 130, 80, 30, {
	type: 'scatter',
	data: {datasets: [
		lineSet(xy(cubicEdgeYears, cubicEdge), ORANGE, 0, smooth),
		lineSet(xy(gaussYears, gaussEdge), GREEN, 1, dotted),
		lineSet(xy(years, edgeFrac), BLUE, 2),
	]},
	options: {scales: {
		x: linAxis(0, 209.6, timeTicks, (v) => v, 3, {display: true, text: 'Time (years)', padding: {top: 0, bottom: 8}}),
		y: linAxis(0, .274, edgeTicks, fixed(2), 8),
	}},
});

// D
panel({l: 1984, t: 48, r: 2388, b: 397}, 134, 100, 60, {
	type: 'scatter',
	data: {datasets: [
		lineSet(xy(unitLine, unitLine), 'rgba(120,120,120,.55)', 0, {borderWidth: 3}),
		timeSet(xy(thawX, thawY), thawTime, 1),
	]},
	options: {scales: {x: linAxis(-.000735, .015, thawXTicks, fixed(3), 3), y: linAxis(-.00068, .0149, thawYTicks, fixed(4), 8)}},
});

// H
panel({l: 1984, t: 548, r: 2388, b: 898}, 134, 80, 60, {
	type: 'scatter',
	data: {datasets: [
		lineSet(xy(cubicP, cubicE), ORANGE, 0, smooth),
		lineSet(xy(relationP, parabolic), BLUE, 1, smooth),
		timeSet(xy(pixelFrac, edgeFrac), years, 2),
	]},
	options: {scales: {x: linAxis(-.0514, 1.049, relationTicks, fixed(2), 3), y: linAxis(0, .2735, edgeTicks, noLabel, 8)}},
});

// colour bar
panel({l: 2441, t: 548, r: 2460, b: 898}, 0, 30, 94, {
	type: 'bar',
	data: {labels: ['Time'], datasets: [{
		data: [[0, 199.5]], categoryPercentage: 1, barPercentage: 1, borderWidth: 0,
		backgroundColor: (ctx) => {
			const a = ctx.chart.chartArea;
			if(!a) return MIRE;
			const g = ctx.chart.ctx.createLinearGradient(0, a.bottom, 0, a.top);
			for(let i = 0; i <= 40; i++) g.addColorStop(i / 40, jet(i / 40));
			return g;
		},
	}]},
	options: {scales: {
		x: {display: false},
		y: Object.assign(linAxis(0, 199.5, colorTicks, (v) => v, 8), {position: 'right'}),
	}},
});

function text(x, y, html, o){
	o = o || {};
	const d = document.createElement('div');
	d.className = 't';
	d.innerHTML = html;
	d.style.left = x + 'px';
	d.style.top = y + 'px';
	d.style.fontSize = (o.size || 23) + 'px';
	d.style.fontFamily = o.font || DEJAVU;
	if(o.weight) d.style.fontWeight = o.weight;
	const dx = o.left ? '0' : '-50%';
	d.style.transform = 'translate(' + dx + ',-50%)' + (o.rot ? ' rotate(-90deg)' : '');
	document.body.appendChild(d);
}

const PF = '<i>p<sub>frac</sub></i>', EF = '<i>e<sub>frac</sub></i>';

// panel letters
[['A',116,71],['B',534,71],['E',116,571],['F',534,571],['C',1086,71],['G',1086,571],['D',2014,71],['H',2014,571]].forEach((l) => {
	text(l[1], l[2], l[0], {size: 26, weight: 'bold'});
});

// axis labels with subscripts
text(953, 223, PF + ' : palsa fraction', {rot: true});
text(912, 722, EF + ' : total edge length per', {rot: true});
text(939, 719, 'pixel width per number of pixels', {rot: true});
text(1863, 223, '&Delta; p<sub><i>frac</i></sub> per year', {rot: true});
text(2187, 457, 'Edge pixel thaw');
text(2187, 485, 'probability per year * ' + EF);
text(2187, 957, PF + ' : palsa fraction');
text(2539, 723, 'Time (years)', {rot: true});
text(1573, 630, 'Max ' + EF + ': 0.26', {left: true});

// handwritten style notes
text(1056, 275, 'Palsa', {size: 41, font: HAND, left: true});
text(1056, 332, 'Fraction', {size: 41, font: HAND, left: true});
text(1228, 736, 'Edge', {size: 41, font: HAND, left: true});
text(1228, 793, 'length', {size: 41, font: HAND, left: true});
text(1933, 723, 'Edge length', {size: 40, rot: true});
text(2202, 1002, 'Palsa fraction', {size: 41, font: HAND});

// top of the equation that the figure crops away
[['(',566,1032,60],['1',598,1032,36],['|',734,1032,60],['2',768,1032,36],['1',1088,1032,36],['|',1116,1032,60],['3',1143,1018,44],[')',1172,1032,60]].forEach((g) => {
	text(g[1], g[2], g[0], {size: g[3], font: '"Liberation Serif"'});
});

function legend(l, t, r, b, rows){
	const d = document.createElement('div');
	d.className = 'lg';
	d.style.left = l + 'px';
	d.style.top = t + 'px';
	d.style.width = (r - l) + 'px';
	d.style.height = (b - t) + 'px';
	document.body.appendChild(d);
	rows.forEach((e) => {
		const s = document.createElement('div');
		s.className = 'sw';
		s.style.left = e.x + 'px';
		s.style.width = e.w + 'px';
		if(e.swatch){
			s.style.top = (e.y - 9) + 'px';
			s.style.height = '18px';
			s.style.background = e.swatch;
		}else{
			s.style.top = (e.y - 2) + 'px';
			s.style.borderTop = '4px ' + (e.dots ? 'dotted ' : 'solid ') + e.line;
		}
		document.body.appendChild(s);
		text(e.tx, e.y, e.label, {left: true});
	});
}

legend(282, 309, 429, 386, [
	{x: 291, w: 49, y: 328, swatch: MIRE, tx: 359, label: 'Mire'},
	{x: 291, w: 49, y: 363, swatch: PALSA, tx: 359, label: 'Palsa'},
]);
legend(1507, 60, 1825, 171, [
	{x: 1515, w: 50, y: 79, line: BLUE, tx: 1582, label: 'Pixel model'},
	{x: 1515, w: 50, y: 113, line: ORANGE, tx: 1582, label: 'Using cubic relation'},
	{x: 1515, w: 50, y: 148, line: GREEN, dots: true, tx: 1582, label: 'ERFC'},
]);
legend(1558, 560, 1825, 602, [
	{x: 1567, w: 42, y: 579, line: GREEN, dots: true, tx: 1633, label: 'Fitted Gaussian'},
]);
legend(2042, 809, 2332, 886, [
	{x: 2049, w: 51, y: 828, line: BLUE, tx: 2117, label: 'Parabolic relation'},
	{x: 2049, w: 51, y: 863, line: ORANGE, tx: 2117, label: 'Cubic relation'},
]);
</script>
</body>
</html>
